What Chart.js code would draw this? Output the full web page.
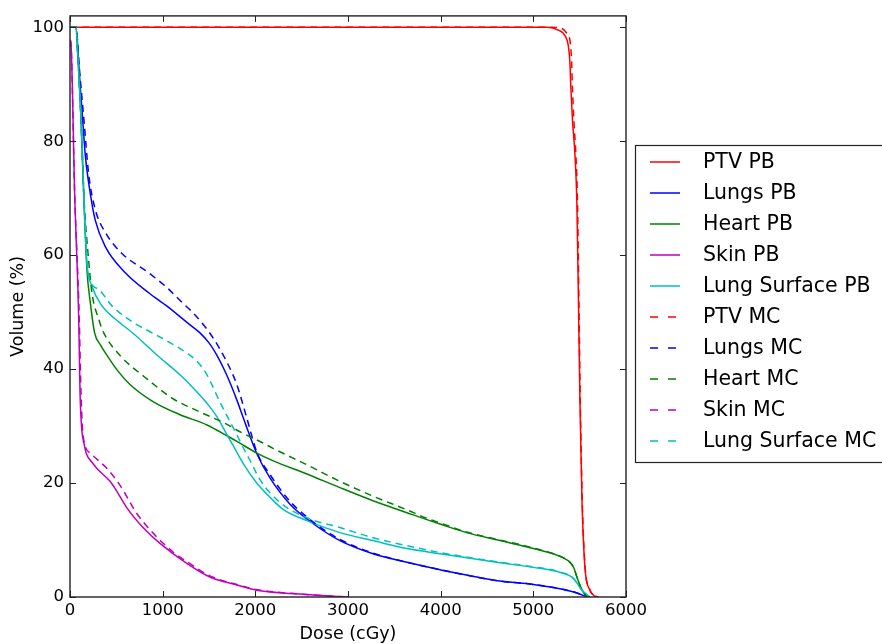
<!DOCTYPE html>
<html>
<head>
<meta charset="utf-8">
<script src="https://cdn.jsdelivr.net/npm/chart.js@4.4.1/dist/chart.umd.min.js"></script>
<style>
  html, body { margin: 0; padding: 0; background: #fff; }
</style>
</head>
<body>
<canvas id="dvh" width="882" height="644"></canvas>
<script>
// tick labels
const xTicks = [0, 1000, 2000, 3000, 4000, 5000, 6000];
const yTicks = [0, 20, 40, 60, 80, 100];

// dose (cGy) / volume (%)
const ptvPbDose = [0, 5150, 5270, 5340, 5376, 5394, 5405, 5423, 5449, 5470, 5487, 5503, 5525, 5557, 5611, 5650, 5697];
const ptvPbVol  = [100, 100, 99.5, 98.6, 96.9, 94, 89.4, 83.5, 77.7, 69, 51.7, 34.3, 16.9, 5.2, 1.2, 0.3, 0];
const ptvMcDose = [0, 5200, 5305, 5360, 5395, 5413, 5422, 5438, 5459, 5477, 5492, 5507, 5528, 5559, 5612, 5650, 5700];
const ptvMcVol  = [100, 100, 99.8, 99, 97.7, 94, 89.4, 83.5, 77.7, 69, 51.7, 34.3, 16.9, 5.2, 1.2, 0.3, 0];

const lungsPbDose = [0, 65, 100, 136, 164, 219, 273, 381, 597, 849, 1050, 1262, 1400, 1500, 1583, 1690, 1800, 1895, 2015, 2158, 2374, 2622, 2913, 3270, 3636, 3993, 4640, 5000, 5360, 5470, 5580];
const lungsPbVol  = [100, 100, 92, 84, 77.7, 70.8, 66.1, 61.5, 56.9, 53.4, 51, 48.2, 46.4, 44.6, 42.5, 39, 34.6, 30.3, 25.2, 20.9, 16.3, 12.9, 9.9, 7.6, 6.1, 4.8, 2.8, 2.2, 1.2, 0.7, 0];
const lungsMcDose = [0, 65, 100, 150, 201, 273, 381, 561, 849, 1047, 1209, 1327, 1440, 1543, 1694, 1802, 1910, 2015, 2158, 2374, 2622, 2913, 3270, 3636, 3993, 4640, 5000, 5360, 5470, 5580];
const lungsMcVol  = [100, 100, 93, 83.8, 74.3, 68, 64, 60.3, 56.9, 54.3, 51.7, 49.9, 47.8, 45.5, 41.2, 37.2, 31.3, 25.5, 21.5, 16.8, 13.2, 10.1, 7.7, 6.1, 4.8, 2.8, 2.2, 1.2, 0.7, 0];

const heartPbDose = [0, 65, 83, 119, 151, 183, 219, 265, 330, 400, 520, 647, 896, 1187, 1478, 1694, 1834, 2000, 2194, 2557, 2913, 3270, 3636, 3993, 4280, 4640, 5000, 5320, 5400, 5440, 5470, 5525, 5580];
const heartPbVol  = [100, 100, 95.5, 83.8, 69.4, 57.4, 51.7, 46.4, 44.2, 42.4, 39.6, 37.3, 34.3, 32, 30.2, 28.3, 27, 25.4, 23.9, 21.6, 19.2, 16.9, 14.8, 12.8, 11.3, 9.9, 8.5, 6.9, 6, 5, 3.5, 1.2, 0];
const heartMcDose = [0, 65, 83, 119, 151, 191, 237, 309, 363, 540, 830, 1112, 1400, 1694, 1834, 2050, 2190, 2557, 2913, 3270, 3636, 3850, 3993, 4280, 4640, 5000, 5320, 5400, 5440, 5470, 5525, 5580];
const heartMcVol  = [100, 100, 95.5, 84, 70, 61, 53.4, 48.8, 46.4, 42.4, 38.3, 34.8, 32.5, 30.3, 29, 27.3, 26.1, 23.2, 20.3, 17.7, 15.3, 13.8, 13, 11.4, 10, 8.6, 6.9, 6, 5, 3.5, 1.2, 0];

const skinPbDose = [0, 10, 50, 95, 108, 126, 150, 180, 240, 288, 432, 504, 612, 788, 971, 1260, 1510, 1800, 2015, 2405, 2770, 3000];
const skinPbVol  = [97.8, 97.2, 71, 48, 36, 29.6, 27, 25, 23.6, 22.6, 20.3, 18.6, 15.7, 12.2, 9.4, 5.9, 3.5, 2.1, 1.2, 0.6, 0.2, 0];
const skinMcDose = [0, 10, 50, 100, 115, 140, 216, 290, 396, 540, 715, 863, 1112, 1300, 1510, 1800, 2015, 2405, 2770, 3000];
const skinMcVol  = [97.8, 97.2, 71, 49, 38, 28.5, 25.3, 24.2, 22.6, 19.6, 14.8, 11.8, 7.9, 5.8, 3.7, 2.2, 1.3, 0.6, 0.2, 0];

const surfPbDose = [0, 65, 83, 119, 151, 183, 237, 345, 489, 680, 950, 1187, 1370, 1478, 1583, 1690, 1760, 1870, 2015, 2158, 2298, 2557, 2913, 3270, 3636, 3993, 4640, 5000, 5290, 5430, 5525, 5610];
const surfPbVol  = [100, 100, 95.5, 83.8, 69.4, 58.6, 54.6, 51.1, 48.8, 46.3, 42.3, 39, 36, 34, 31.7, 28.6, 26.6, 23.4, 20, 17.5, 15.4, 13.4, 11.3, 9.9, 8.5, 7.6, 6, 5.2, 4.3, 3.3, 1.2, 0];
const surfMcDose = [0, 65, 83, 119, 151, 180, 201, 309, 453, 680, 860, 1050, 1262, 1380, 1478, 1618, 1726, 1800, 1870, 1942, 2050, 2266, 2557, 2913, 3270, 3636, 3993, 4640, 5000, 5290, 5430, 5525, 5610];
const surfMcVol  = [100, 100, 95.5, 84, 70, 60, 56.3, 54, 51.1, 48.2, 46.6, 44.9, 42.8, 41.2, 39, 34.2, 30.8, 28.5, 26.2, 24, 20.6, 16.6, 13.9, 12.2, 10.4, 9, 7.8, 6.1, 5.3, 4.4, 3.3, 1.2, 0];

const labels = ['PTV PB', 'Lungs PB', 'Heart PB', 'Skin PB', 'Lung Surface PB',
                'PTV MC', 'Lungs MC', 'Heart MC', 'Skin MC', 'Lung Surface MC'];
const colors = ['#ff0000', '#0000ff', '#008000', '#bf00bf', '#00bfbf'];

const series = [
  [ptvPbDose, ptvPbVol], [lungsPbDose, lungsPbVol], [heartPbDose, heartPbVol], [skinPbDose, skinPbVol], [surfPbDose, surfPbVol],
  [ptvMcDose, ptvMcVol], [lungsMcDose, lungsMcVol], [heartMcDose, heartMcVol], [skinMcDose, skinMcVol], [surfMcDose, surfMcVol]
];

const datasets = series.map((s, i) => ({
  label: labels[i],
  data: s[0].map((d, j) => ({x: d, y: s[1][j]})),
  borderColor: colors[i % 5],
  borderWidth: 1.5,
  borderDash: i >= 5 ? [7, 5] : [],
  pointRadius: 0,
  fill: false,
  cubicInterpolationMode: 'monotone',
  order: 20 - i   // later series on top, like matplotlib
}));

// matplotlib style frame with inward ticks on all four sides
const framePlugin = {
  id: 'frame',
  afterDatasetsDraw(chart) {
    const {ctx, chartArea: a, scales: {x, y}} = chart;
    ctx.save();
    ctx.strokeStyle = '#222';
    ctx.lineWidth = 1;
    ctx.beginPath();
    xTicks.forEach(v => {
      const px = Math.round(x.getPixelForValue(v)) + 0.5;
      ctx.moveTo(px, a.bottom); ctx.lineTo(px, a.bottom - 6);
      ctx.moveTo(px, a.top); ctx.lineTo(px, a.top + 6);
    });
    yTicks.forEach(v => {
      const py = Math.round(y.getPixelForValue(v)) + 0.5;
      ctx.moveTo(a.left, py); ctx.lineTo(a.left + 6, py);
      ctx.moveTo(a.right, py); ctx.lineTo(a.right - 6, py);
    });
    ctx.stroke();
    ctx.lineWidth = 1.4;
    ctx.strokeRect(a.left, a.top, a.right - a.left, a.bottom - a.top);
    ctx.restore();
  }
};

// boxed legend like the original figure
const boxLegend = {
  id: 'boxLegend',
  afterDraw(chart) {
    const ctx = chart.ctx;
    const left = 635.5, top = 145.5, rowH = 31, firstRow = 162;
    ctx.save();
    ctx.fillStyle = '#fff';
    ctx.fillRect(left, top, 260, 317);
    ctx.strokeStyle = '#222';
    ctx.lineWidth = 1.2;
    ctx.strokeRect(left, top, 260, 317);
    ctx.font = '20.5px "DejaVu Sans"';
    ctx.textBaseline = 'middle';
    chart.data.datasets.forEach((ds, i) => {
      const yy = firstRow + i * rowH;
      ctx.strokeStyle = ds.borderColor;
      ctx.lineWidth = 1.5;
      ctx.setLineDash(ds.borderDash.length ? [8, 10] : []);
      ctx.beginPath();
      ctx.moveTo(650, yy); ctx.lineTo(680, yy);
      ctx.stroke();
      ctx.setLineDash([]);
      ctx.fillStyle = '#000';
      ctx.fillText(ds.label, 703, yy + 1);
    });
    ctx.restore();
  }
};

Chart.defaults.font.family = '"DejaVu Sans", sans-serif';
Chart.defaults.color = '#000';

new Chart(document.getElementById('dvh'), {
  type: 'line',
  data: { datasets: datasets },
  options: {
    responsive: false,
    animation: false,
    layout: { padding: { top: 10, right: 256, left: 0, bottom: 0 } },
    plugins: { legend: { display: false }, tooltip: { enabled: false } },
    scales: {
      x: {
        type: 'linear',
        min: 0, max: 6000,
        grid: { display: false, drawTicks: false },
        border: { display: false },
        afterBuildTicks: s => { s.ticks = xTicks.map(v => ({value: v})); },
        afterFit: s => { s.height = 47; },
        ticks: { font: { size: 16.5 }, padding: 4, maxRotation: 0, callback: v => String(v) },
        title: { display: true, text: 'Dose (cGy)', font: { size: 17.5 }, padding: { top: 0, bottom: -1 } }
      },
      y: {
        min: 0, max: 102,
        grid: { display: false, drawTicks: false },
        border: { display: false },
        afterBuildTicks: s => { s.ticks = yTicks.map(v => ({value: v})); },
        afterFit: s => { s.width = 70; },
        ticks: { font: { size: 16.5 }, padding: 6, callback: v => String(v) },
        title: { display: true, text: 'Volume (%)', font: { size: 17.5 }, padding: { top: 7.5, bottom: 0 } }
      }
    }
  },
  plugins: [framePlugin, boxLegend]
});
</script>
</body>
</html>
